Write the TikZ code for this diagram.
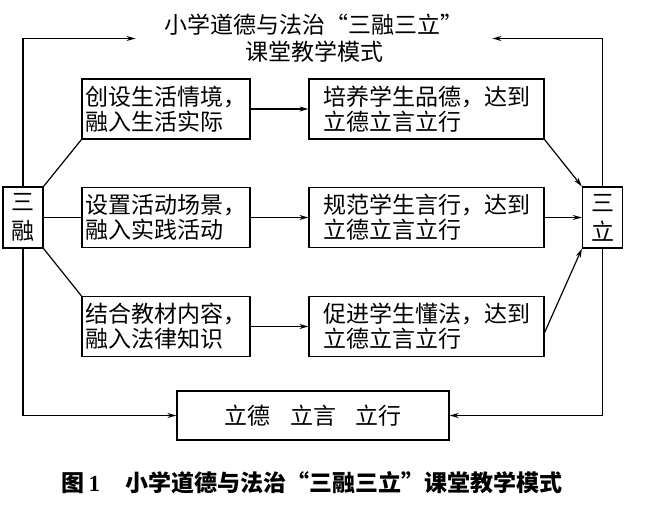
\documentclass[tikz,border=0pt]{standalone}
\usepackage{fontspec}
\setmainfont{Noto Sans CJK SC}
\newfontfamily\numfont{Liberation Serif}
\usetikzlibrary{arrows.meta}

\begin{document}
\begin{tikzpicture}[x=1pt,y=-1pt,line width=1.2pt,
  box/.style={draw, align=left, inner sep=2pt, font=\fontsize{23}{25}\selectfont},
  side/.style={box, align=center, minimum width=40pt, minimum height=61pt, font=\fontsize{23}{29}\selectfont},
  link/.style={draw,-{Stealth[length=9pt,width=5pt]}}]
\useasboundingbox (0,0) rectangle (645,508);

\node[align=center, font=\fontsize{23}{27}\selectfont] (title) at (314,38.5) {小学道德与法治“三融三立”\\课堂教学模式};

\node[side] (sanrong) at (23,217.5) {三\\融};
\node[side] (sanli) at (602.5,217.5) {三\\立};

\node[box, minimum width=168pt, minimum height=60pt] (l1) at (166,109) {创设生活情境，\\融入生活实际};
\node[box, minimum width=168pt, minimum height=60pt] (l2) at (166,217.5) {设置活动场景，\\融入实践活动};
\node[box, minimum width=168pt, minimum height=60pt] (l3) at (166,326.5) {结合教材内容，\\融入法律知识};

\node[box, minimum width=235pt, minimum height=60pt] (r1) at (426.5,109) {培养学生品德，达到\\立德立言立行};
\node[box, minimum width=235pt, minimum height=60pt] (r2) at (426.5,217.5) {规范学生言行，达到\\立德立言立行};
\node[box, minimum width=235pt, minimum height=60pt] (r3) at (426.5,326.5) {促进学生懂法，达到\\立德立言立行};

\node[box, align=center, minimum width=272pt, minimum height=49pt] (bottom) at (313,415.5) {立德\hspace{0.85em}立言\hspace{0.85em}立行};

\node[font=\fontsize{23}{25}\selectfont\bfseries] (caption) at (312,483) {图\,{\numfont 1}\hspace{1.1em}小学道德与法治“三融三立”课堂教学模式};

% san rong to the three ways
\path[draw] (sanrong.north east) -- (l1.south west);
\path[draw] (sanrong.east) -- (l2.west);
\path[draw] (sanrong.south east) -- (l3.north west);

\path[link] (l1) -- (r1);
\path[link] (l2) -- (r2);
\path[link] (l3) -- (r3);

% the three results to san li
\path[link] (r1.south east) -- (sanli.north west);
\path[link] (r2) -- (sanli);
\path[link] ([yshift=-6pt]r3.east) -- (sanli.south west);

% outer loop
\path[link] (sanrong.north) |- ([xshift=-25pt]title.west);
\path[link] (sanli.north) |- ([xshift=25pt]title.east);
\path[link] (sanrong.south) |- (bottom.west);
\path[link] (sanli.south) |- (bottom.east);
\end{tikzpicture}
\end{document}
